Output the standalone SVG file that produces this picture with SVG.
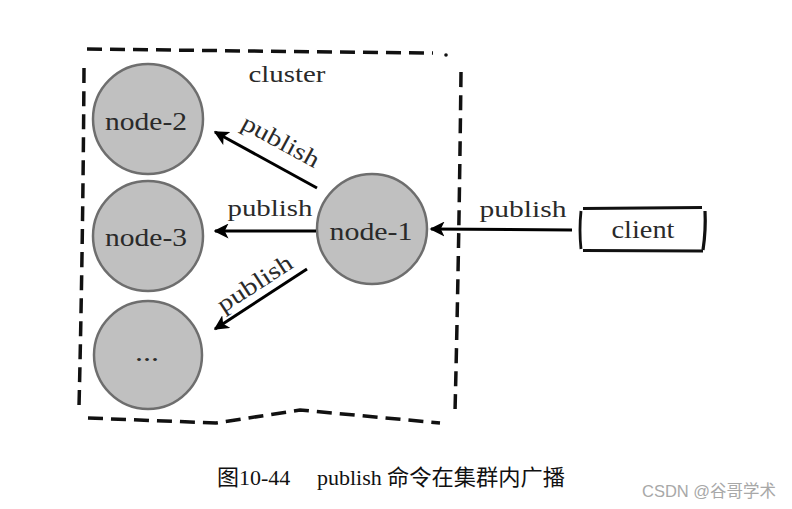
<svg xmlns="http://www.w3.org/2000/svg" width="792" height="509" viewBox="0 0 792 509">
<defs>
<style>
.node circle{fill:#c0c0c0;stroke:#6e6e6e;stroke-width:2.5}
.lbl{font-family:"Liberation Serif","DejaVu Serif",serif;fill:#2a2a2a}
.nl{font-size:26px;text-anchor:middle}
.pl{font-size:24px}
.edge{stroke:#000;stroke-width:3;fill:none;marker-end:url(#ah)}
.border{stroke:#111;stroke-width:3.5;fill:none;stroke-dasharray:15 8}
.cap{font-family:"Liberation Serif","Noto Sans CJK SC",serif;font-size:22px;fill:#111}
</style>
<marker id="ah" viewBox="0 0 10 10" refX="9" refY="5" markerWidth="5" markerHeight="5" orient="auto" markerUnits="strokeWidth">
<path d="M0,0 L10,5 L0,10 L2.5,5 Z" fill="#000"/>
</marker>
</defs>
<rect width="792" height="509" fill="#fff"/>

<g id="cluster">
<path class="border" d="M87,49 L250,51 L433,53"/>
<circle cx="446" cy="55" r="1.8" fill="#111"/>
<path class="border" d="M84,68 Q83,240 79,407"/>
<path class="border" d="M461,72 Q459,250 455,412"/>
<path class="border" d="M88,418 L216,423 L300,410 L440,423"/>
<text class="lbl" x="287" y="82" font-size="24" text-anchor="middle" textLength="77" lengthAdjust="spacingAndGlyphs">cluster</text>
</g>

<g id="node-2" class="node">
<circle cx="148" cy="119" r="55"/>
<text class="lbl nl" x="146" y="130" textLength="82" lengthAdjust="spacingAndGlyphs">node-2</text>
</g>
<g id="node-3" class="node">
<circle cx="148" cy="236" r="55"/>
<text class="lbl nl" x="146" y="246" textLength="82" lengthAdjust="spacingAndGlyphs">node-3</text>
</g>
<g id="node-more" class="node">
<circle cx="148" cy="355" r="54"/>
<text class="lbl nl" x="147" y="361" textLength="24" lengthAdjust="spacingAndGlyphs">...</text>
</g>
<g id="node-1" class="node">
<circle cx="372" cy="229" r="55"/>
<text class="lbl nl" x="371" y="240" textLength="83" lengthAdjust="spacingAndGlyphs">node-1</text>
</g>
<g id="client">
<path d="M583,208.5 L702,207.5" stroke="#111" stroke-width="2.8" fill="none"/>
<path d="M581,211 Q579,230 581,249" stroke="#111" stroke-width="2.8" fill="none"/>
<path d="M583,250.5 L703,251" stroke="#111" stroke-width="2.8" fill="none"/>
<path d="M705,211 Q706,230 703,250" stroke="#111" stroke-width="3.2" fill="none"/>
<text class="lbl" x="643" y="238" font-size="25" text-anchor="middle" textLength="63" lengthAdjust="spacingAndGlyphs">client</text>
</g>

<g id="connectors">
<line class="edge" x1="317" y1="188" x2="215" y2="132"/>
<line class="edge" x1="316" y1="231" x2="215" y2="231"/>
<line class="edge" x1="307" y1="269" x2="215" y2="329"/>
<line class="edge" x1="572" y1="230" x2="431" y2="229"/>
<text class="lbl pl" transform="translate(277,148) rotate(28.5)" text-anchor="middle" textLength="85" lengthAdjust="spacingAndGlyphs">publish</text>
<text class="lbl pl" x="270" y="216" text-anchor="middle" textLength="85" lengthAdjust="spacingAndGlyphs">publish</text>
<text class="lbl pl" transform="translate(259,290) rotate(-33)" text-anchor="middle" textLength="85" lengthAdjust="spacingAndGlyphs">publish</text>
<text class="lbl pl" x="523" y="217" text-anchor="middle" textLength="87" lengthAdjust="spacingAndGlyphs">publish</text>
</g>

<text class="cap" y="485"><tspan x="217">图10-44</tspan><tspan x="317">publish</tspan><tspan x="387" textLength="178" lengthAdjust="spacingAndGlyphs">命令在集群内广播</tspan></text>
<text x="642" y="497" font-family="'Liberation Sans','Noto Sans CJK SC',sans-serif" font-size="16.5" fill="#a8a8a8">CSDN @谷哥学术</text>
</svg>
